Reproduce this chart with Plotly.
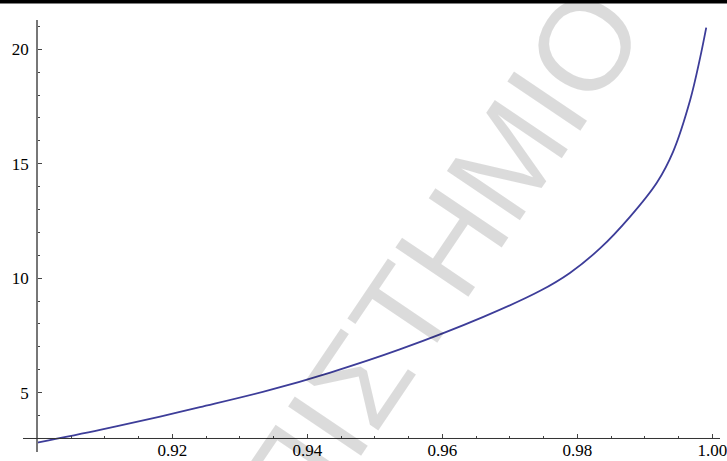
import plotly.graph_objects as go

# data
x_vals = [0.9000, 0.9093, 0.9182, 0.9241, 0.9345, 0.9434, 0.9537, 0.9660, 0.9745,
          0.9789, 0.9834, 0.9878, 0.9918, 0.9942, 0.9967, 0.9982, 0.9991]
y_vals = [2.82, 3.38, 3.96, 4.37, 5.12, 5.88, 6.89, 8.30, 9.45,
          10.23, 11.31, 12.68, 14.18, 15.53, 17.76, 19.63, 20.94]

x_ticks = [0.92, 0.94, 0.96, 0.98, 1.00]
x_tick_labels = ["0.92", "0.94", "0.96", "0.98", "1.00"]
y_ticks = [5, 10, 15, 20]
y_tick_labels = ["5", "10", "15", "20"]

watermark = "ΠΑΝΕΠΙΣΤΗΜΙΟ"

W, H = 727, 461
ML, MR, MT, MB = 37, 7, 20, 9
PW, PH = W - ML - MR, H - MT - MB

x_range = [0.89996, 1.00114]
y_range = [2.41, 21.275]
x_axis_y = 3.0

font_family = "Liberation Serif, Times New Roman, serif"

fig = go.Figure()
fig.add_trace(go.Scatter(
    x=x_vals, y=y_vals, mode="lines",
    line=dict(color="#3d3d99", width=1.8, shape="spline", smoothing=1.0),
    hoverinfo="skip", showlegend=False,
))

pos = (x_axis_y - y_range[0]) / (y_range[1] - y_range[0])

fig.update_layout(
    width=W, height=H,
    margin=dict(l=ML, r=MR, t=MT, b=MB, pad=0, autoexpand=False),
    paper_bgcolor="white", plot_bgcolor="white",
    showlegend=False,
    font=dict(family=font_family, size=17, color="black"),
    xaxis=dict(
        range=x_range, anchor="free", position=pos, automargin=False,
        showgrid=False, zeroline=False, showline=False,
        tickmode="array", tickvals=x_ticks, ticktext=x_tick_labels,
        ticks="inside", ticklen=4, tickwidth=1, tickcolor="#444",
        ticklabeloverflow="allow",
        minor=dict(dtick=0.005, tick0=0.9, ticks="inside", ticklen=2.5,
                   tickwidth=1, tickcolor="#444", showgrid=False),
        tickfont=dict(family=font_family, size=17, color="black"),
    ),
    yaxis=dict(
        range=y_range, anchor="free", position=0, automargin=False,
        showgrid=False, zeroline=False, showline=True,
        linecolor="#777", linewidth=1.5,
        tickmode="array", tickvals=y_ticks, ticktext=y_tick_labels,
        ticks="inside", ticklen=4, tickwidth=1, tickcolor="#444",
        ticklabeloverflow="allow",
        minor=dict(dtick=1, tick0=0, ticks="inside", ticklen=2.5,
                   tickwidth=1, tickcolor="#444", showgrid=False),
        tickfont=dict(family=font_family, size=17, color="black"),
        ticklabelstandoff=4,
    ),
    shapes=[
        # horizontal axis line, crossing the vertical axis at y = 3
        dict(type="line", xref="paper", yref="y",
             x0=-14 / PW, x1=1, y0=x_axis_y, y1=x_axis_y,
             line=dict(color="#333", width=1)),
        # black rule at the top of the page
        dict(type="rect", xref="paper", yref="paper",
             x0=-ML / PW, x1=1 + MR / PW,
             y0=1 + (MT - 3.5) / PH, y1=1 + MT / PH,
             fillcolor="black", line=dict(width=0)),
    ],
    annotations=[
        dict(text=watermark, xref="paper", yref="paper",
             x=(339 - ML) / PW, y=1 - (408 - MT) / PH,
             xanchor="center", yanchor="middle",
             showarrow=False, textangle=-56,
             font=dict(family="Liberation Sans, Arial, sans-serif", size=128,
                       color="rgba(0,0,0,0.14)")),
    ],
)

fig.write_html(
    "out.html",
    config={"displayModeBar": False},
    post_script="document.body.style.margin='0';document.body.style.overflow='hidden';",
)
